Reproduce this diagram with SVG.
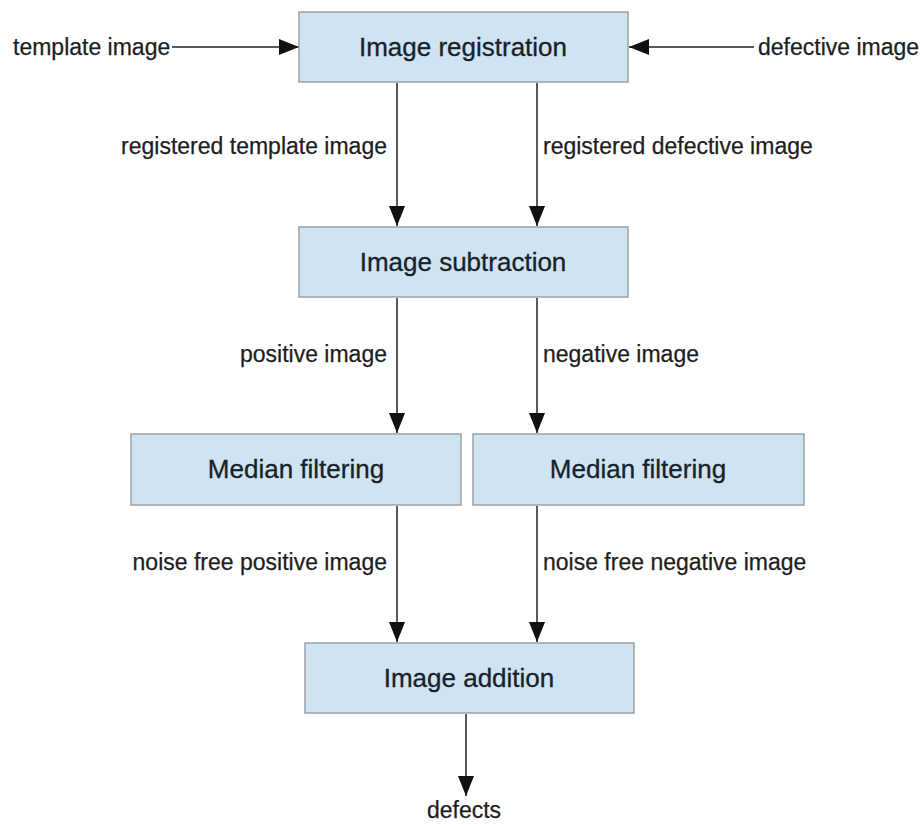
<svg xmlns="http://www.w3.org/2000/svg" width="923" height="825" viewBox="0 0 923 825">
<style>
.box{fill:#cfe3f1;stroke:#9aa3aa;stroke-width:1.5}
.bt{font-family:"Liberation Sans",Arial,sans-serif;font-size:26px;fill:#18222b;text-anchor:middle;stroke:#18222b;stroke-width:0.3}
.lb{font-family:"Liberation Sans",Arial,sans-serif;font-size:23px;fill:#1e1e1e;stroke:#1e1e1e;stroke-width:0.25}
.c{stroke:#222;stroke-width:1.5;fill:none;marker-end:url(#ah)}
</style>
<defs>
<marker id="ah" markerUnits="userSpaceOnUse" markerWidth="22" markerHeight="18" refX="20" refY="8" orient="auto">
<path d="M0,0 L20,8 L0,16 Z" fill="#111"/>
</marker>
</defs>
<rect width="923" height="825" fill="#fff"/>
<g id="connectors">
<line class="c" x1="172" y1="47" x2="299" y2="47"/>
<line class="c" x1="754" y1="47" x2="629" y2="47"/>
<line class="c" x1="397" y1="83" x2="397" y2="226"/>
<line class="c" x1="537" y1="83" x2="537" y2="226"/>
<line class="c" x1="397" y1="298" x2="397" y2="433"/>
<line class="c" x1="537" y1="298" x2="537" y2="433"/>
<line class="c" x1="397" y1="506" x2="397" y2="642"/>
<line class="c" x1="537" y1="506" x2="537" y2="642"/>
<line class="c" x1="466" y1="714" x2="466" y2="796"/>
</g>
<g id="labels">
<text class="lb" x="13" y="55">template image</text>
<text class="lb" x="758" y="55">defective image</text>
<text class="lb" x="387" y="154" text-anchor="end">registered template image</text>
<text class="lb" x="543" y="154">registered defective image</text>
<text class="lb" x="387" y="362" text-anchor="end">positive image</text>
<text class="lb" x="543" y="362">negative image</text>
<text class="lb" x="387" y="570" text-anchor="end">noise free positive image</text>
<text class="lb" x="543" y="570">noise free negative image</text>
<text class="lb" x="464" y="818" text-anchor="middle">defects</text>
</g>
<g id="registration">
<rect class="box" x="299" y="12" width="329" height="70"/>
<text class="bt" x="463" y="56">Image registration</text>
</g>
<g id="subtraction">
<rect class="box" x="299" y="227" width="329" height="70"/>
<text class="bt" x="463" y="271">Image subtraction</text>
</g>
<g id="median1">
<rect class="box" x="131" y="434" width="330" height="71"/>
<text class="bt" x="296" y="478">Median filtering</text>
</g>
<g id="median2">
<rect class="box" x="473" y="434" width="331" height="71"/>
<text class="bt" x="638" y="478">Median filtering</text>
</g>
<g id="addition">
<rect class="box" x="305" y="643" width="329" height="70"/>
<text class="bt" x="469" y="687">Image addition</text>
</g>
</svg>
